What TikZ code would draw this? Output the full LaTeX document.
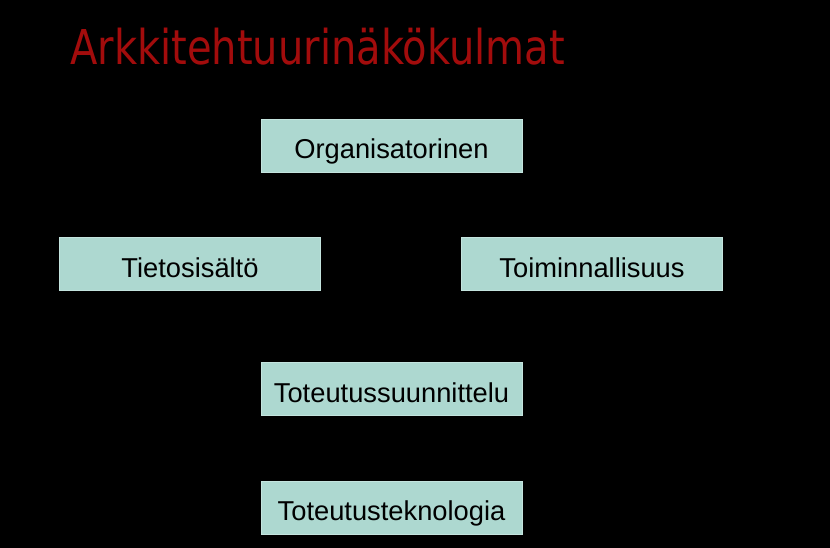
\documentclass[tikz,border=0pt]{standalone}
\usepackage{fontspec}
\usepackage{graphicx}
\setmainfont{Liberation Sans}
\newfontfamily\titlefont{DejaVu Sans}
\usetikzlibrary{arrows.meta}
\pgfdeclarelayer{bglayer}
\pgfdeclarelayer{edgelayer}
\pgfsetlayers{bglayer,edgelayer,main}
\definecolor{boxfill}{RGB}{173,216,208}
\definecolor{boxline}{RGB}{196,228,222}
\definecolor{titlered}{RGB}{162,12,12}
\tikzset{
  viewbox/.style={draw=boxline, line width=0.8pt, fill=boxfill, minimum width=261pt,
    minimum height=53pt, inner sep=0pt, text height=26pt, text depth=0pt,
    font=\fontsize{27.3}{32}\selectfont},
  hidden/.style={draw=black, line width=1pt, -{Latex[length=7pt]}}
}
\begin{document}
\begin{tikzpicture}[x=1pt,y=-1pt]
\begin{pgfonlayer}{bglayer}
\fill[black] (0,0) rectangle (830,548);
\end{pgfonlayer}
\useasboundingbox (0,0) rectangle (830,548);
\node[anchor=base west, text=titlered, inner sep=0pt] (title) at (70,65)
  {\scalebox{0.834}[1]{\titlefont\fontsize{48}{56}\selectfont Arkkitehtuurinäkökulmat}};
\node[viewbox] (org) at (391.5,146) {Organisatorinen};
\node[viewbox] (tieto) at (190,264) {Tietosisältö};
\node[viewbox] (toimi) at (592,264) {Toiminnallisuus};
\node[viewbox] (suun) at (391.5,389) {Toteutussuunnittelu};
\node[viewbox] (tekno) at (391.5,507.5) {Toteutusteknologia};
\begin{pgfonlayer}{edgelayer}
\draw[hidden] (org.west) -| (tieto.north);
\draw[hidden] (org.east) -| (toimi.north);
\draw[hidden] (tieto.south) -- ([xshift=-28.5pt]suun.north);
\draw[hidden] (toimi.south) -- ([xshift=28.5pt]suun.north);
\draw[hidden] (suun) -- (tekno);
\end{pgfonlayer}
\end{tikzpicture}
\end{document}
